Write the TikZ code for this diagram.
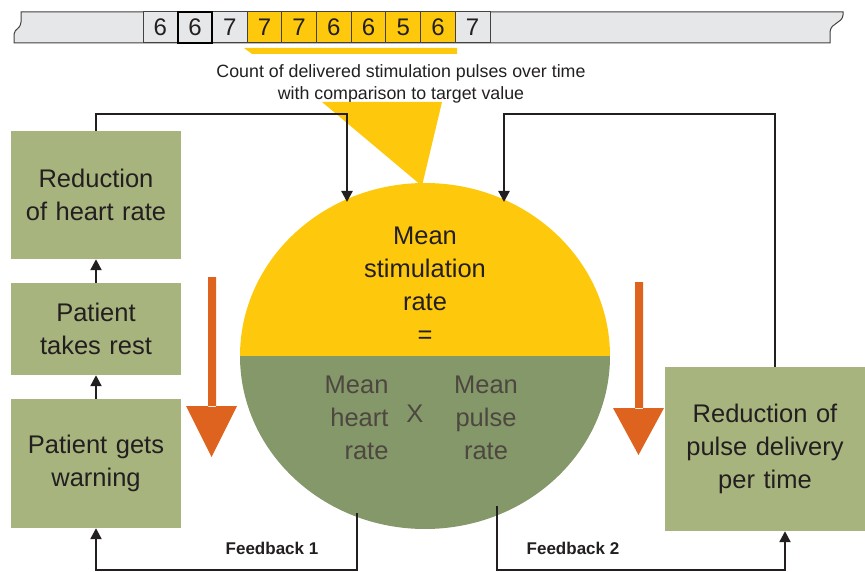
\documentclass[tikz,border=0pt]{standalone}
\usepackage{fontspec}
\setmainfont{Liberation Sans}
\usetikzlibrary{shapes.geometric,arrows.meta,calc}
\definecolor{gold}{HTML}{FEC90D}
\definecolor{olive}{HTML}{84986A}
\definecolor{sage}{HTML}{A8B47E}
\definecolor{rust}{HTML}{DD631F}
\definecolor{tapegray}{HTML}{E6E7E8}
\definecolor{ink}{HTML}{231F20}
\definecolor{dim}{HTML}{4D4740}

\tikzset{
  stepbox/.style={fill=sage, text=ink, minimum width=170pt, text width=165pt, align=center, inner sep=0pt, font=\fontsize{25.5}{33}\selectfont},
  cell/.style={draw=ink!85, line width=1pt, minimum width=34.7pt, minimum height=31pt, inner sep=0pt, text=ink, font=\fontsize{24}{24}\selectfont},
  link/.style={draw=ink, line width=2.2pt, -{Triangle[length=11pt,width=11pt]}},
  fbtext/.style={font=\bfseries\fontsize{17}{17}\selectfont, text=ink},
}

\begin{document}
\begin{tikzpicture}[x=1pt, y=-1pt]
  \useasboundingbox (0,0) rectangle (865,572);

  % tape with counts
  \filldraw[fill=tapegray, draw=ink!85, line width=1pt] (21,12) -- (843,12) -- (843,15) .. controls (842,24) and (831,22) .. (830,32) -- (830,43) -- (14,43) -- (14,34) .. controls (15,28) and (20,30) .. (21,22) -- cycle;
  \foreach \d [count=\i] in {6,6,7,7,7,6,6,5,6,7} {
    \ifnum\i>3 \ifnum\i<10 \def\cf{gold}\else\def\cf{tapegray}\fi \else \def\cf{tapegray}\fi
    \node[cell, fill=\cf] (cell\i) at (125.65+34.7*\i,27.5) {\d};
  }
  \node[cell, draw=black, line width=2pt] at (cell2) {};
  \fill[gold] (244,48) -- (457,48) -- (457,54) -- (252,54) -- cycle;

  \node[text=ink, align=center, font=\fontsize{17.8}{22}\selectfont] (count) at (401,84) {Count of delivered stimulation pulses over time\\with comparison to target value};
  \fill[gold] (322,102) -- (442,102) -- (422,186) -- cycle;

  % mean stimulation rate
  \node[ellipse, minimum width=370pt, minimum height=346pt, inner sep=0pt] (rate) at (425,356) {};
  \begin{scope}
    \clip (rate.center) ellipse [x radius=185, y radius=173];
    \fill[gold] (230,170) rectangle (620,356);
    \fill[olive] (230,356) rectangle (620,540);
  \end{scope}
  \node[text=ink, align=center, font=\fontsize{25.5}{33}\selectfont] (stim) at (425,285) {Mean\\stimulation\\rate\\=};
  \node[text=dim, align=right, anchor=east, font=\fontsize{25.5}{33}\selectfont] (heart) at (392,418) {Mean\\heart\\rate};
  \node[text=dim, font=\fontsize{25.5}{25}\selectfont] (times) at (415,414) {X};
  \node[text=dim, align=center, font=\fontsize{25.5}{33}\selectfont] (pulse) at (486,418) {Mean\\pulse\\rate};

  % steps
  \node[stepbox, minimum height=128pt] (reduce) at (96,195) {Reduction\\of heart rate};
  \node[stepbox, minimum height=92pt] (rest) at (96,329) {Patient\\takes rest};
  \node[stepbox, minimum height=129pt] (warn) at (96,463.5) {Patient gets\\warning};
  \node[stepbox, minimum width=200pt, text width=190pt, minimum height=164pt] (cut) at (765,449) {Reduction of\\pulse delivery\\per time};

  % orange arrows
  \fill[rust] (208,277) rectangle (216,407) (186,406) -- (237,406) -- (211.5,457) -- cycle;
  \fill[rust] (635,282) rectangle (643,409) (613,408) -- (664,408) -- (638.5,455) -- cycle;

  % connectors
  \coordinate (in1) at (347,202);
  \coordinate (in2) at (504,202);
  \coordinate (out1) at (357,513);
  \coordinate (out2) at (497,506);
  \draw[link] (rest) -- (reduce);
  \draw[link] (warn) -- (rest);
  \draw[link] (reduce.north) -- ++(0,-17) -| (in1);
  \draw[link] ([xshift=10pt]cut.north) -- ++(0,-253) -| (in2);
  \draw[link] (out1) -- ++(0,57) -| (warn.south);
  \draw[link] (out2) -- ++(0,64) -| ([xshift=20pt]cut.south);
  \node[fbtext] (fb1) at (272,548) {Feedback 1};
  \node[fbtext] (fb2) at (573,548) {Feedback 2};
\end{tikzpicture}
\end{document}
